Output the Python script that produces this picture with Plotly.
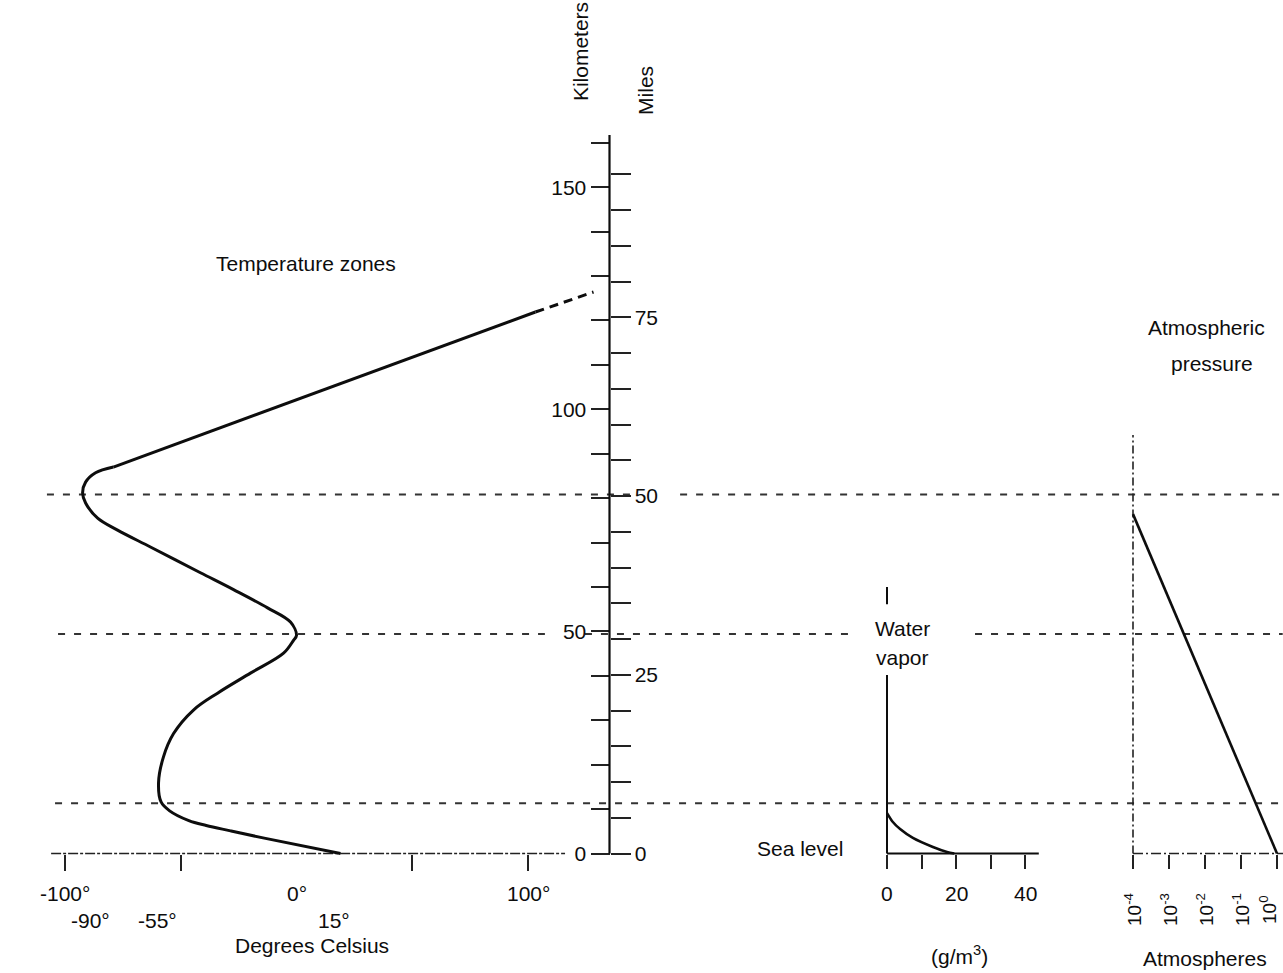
import plotly.graph_objects as go

# ---------------- data ----------------
# Temperature profile (degrees C vs altitude km)
temp_alt_km = [0, 3.4, 5.1, 6.3, 7.4, 9.6, 11.6, 15.9, 21.7, 27.0, 32.3, 36.1, 40.6, 45.1,
               48.0, 49.1, 52.1, 55.3, 59.4, 63.2, 69.0, 72.8, 75.5, 78.9, 81.2, 83.6, 85.7, 87.0]
temp_deg_c = [19, -13.4, -28.5, -39.0, -46.5, -54.8, -58.5, -59.6, -57.5, -53.1, -44.5, -34.1,
              -19.9, -5.6, -1.3, 0, -2.6, -12.5, -27.2, -41.5, -63.1, -77.3, -85.9, -91.1,
              -92.4, -91.1, -86.8, -79.1]
thermo_alt_km = [87.0, 121.9]
thermo_deg_c = [-79.1, 103.2]
thermo_ext_alt_km = [121.9, 126.4]
thermo_ext_deg_c = [103.2, 128.3]

# Water vapor (g/m3 vs km)
vapor_alt_km = [0, 0.34, 1.46, 3.5, 5.5, 7.1, 9.1]
vapor_g_m3 = [19.5, 17.4, 13.3, 7.5, 3.8, 1.7, 0]
vapor_axis_km = [0, 40.2, None, 56.1, 60.0]
vapor_axis_g = [0, 0, None, 0, 0]
vapor_base_g = [0, 44]

# Atmospheric pressure (atm vs km)
pressure_alt_km = [0, 76.4]
pressure_atm = [1.0, 1e-4]
pressure_axis_km = [0, 94.2]
pressure_base_atm = [1e-4, 1.47]

# Temperature-zone boundaries (km) and their horizontal extents (in deg C units)
boundary_km = [80.8, 49.4, 11.3]
boundary_extents_c = [
    [(-107.8, 144.9), (165.7, 426)],
    [(-103.0, 107.3), (124.6, 239.1), (293.1, 426)],
    [(-104.3, 426)],
]
sea_level_extent_c = [-106, 116]

km_major = [0, 50, 100, 150]
km_minor = list(range(0, 161, 10))
mile_major = [0, 25, 50, 75]
mile_minor = list(range(0, 100, 5))
KM_PER_MILE = 1.609344

temp_ticks = [-100, -50, 50, 100]
temp_labels = ["-100°", "0°", "100°"]
temp_label_pos = [-100, 0, 100]
zone_labels = ["-90°", "-55°", "15°"]
zone_label_pos = [-89, -60, 16]

vapor_ticks = [0, 10, 20, 30, 40]
vapor_labels = ["0", "20", "40"]
vapor_label_pos = [0, 20, 40]

pressure_ticks = [1e-4, 1e-3, 1e-2, 1e-1, 1]
pressure_exps = [-4, -3, -2, -1, 0]
pressure_label_pos = [-4, -3, -2, -1, -0.25]

# ---------------- layout calibration (pixels) ----------------
W, H = 1283, 973
KM0_PY = 853.5
PX_PER_KM = 4.442
T_M100_PX = 65
PX_PER_DEG = 2.315
WV0_PX = 887
PX_PER_G = 3.45
P_M4_PX = 1133
PX_PER_DEC = 36.0
KM_AXIS_PX = 609.5

y_range = [(KM0_PY - H) / PX_PER_KM, KM0_PY / PX_PER_KM]
x_temp_range = [-100 - T_M100_PX / PX_PER_DEG, -100 + (W - T_M100_PX) / PX_PER_DEG]
x_vap_range = [-WV0_PX / PX_PER_G, (W - WV0_PX) / PX_PER_G]
x_pres_range = [-4 - P_M4_PX / PX_PER_DEC, -4 + (W - P_M4_PX) / PX_PER_DEC]
base_pos = (H - KM0_PY) / H
km_axis_pos = KM_AXIS_PX / W

INK = "#0d0d0d"
FONT = "Liberation Sans, Arial, Helvetica, sans-serif"
FS = 21

def km_from_px(py):
    return (KM0_PY - py) / PX_PER_KM

fig = go.Figure()

# zone boundary dashed lines
for km, segs in zip(boundary_km, boundary_extents_c):
    xs, ys = [], []
    for a, b in segs:
        xs += [a, b, None]
        ys += [km, km, None]
    fig.add_trace(go.Scatter(x=xs, y=ys, mode="lines", xaxis="x", yaxis="y",
                             line=dict(color="#333333", width=2, dash="7px,9px"),
                             hoverinfo="skip", showlegend=False))

# sea level baseline for temperature
fig.add_trace(go.Scatter(x=sea_level_extent_c, y=[0, 0], mode="lines", xaxis="x", yaxis="y",
                         line=dict(color="#222222", width=1.6, dash="10px,2px,3px,2px"),
                         hoverinfo="skip", showlegend=False))

# temperature curve
fig.add_trace(go.Scatter(x=temp_deg_c, y=temp_alt_km, mode="lines", xaxis="x", yaxis="y",
                         line=dict(color=INK, width=3, shape="spline", smoothing=1.0),
                         hoverinfo="skip", showlegend=False))
fig.add_trace(go.Scatter(x=thermo_deg_c, y=thermo_alt_km, mode="lines", xaxis="x", yaxis="y",
                         line=dict(color=INK, width=3),
                         hoverinfo="skip", showlegend=False))
fig.add_trace(go.Scatter(x=thermo_ext_deg_c, y=thermo_ext_alt_km, mode="lines", xaxis="x", yaxis="y",
                         line=dict(color=INK, width=3, dash="9px,6px"),
                         hoverinfo="skip", showlegend=False))

# invisible trace so the miles axis is drawn
fig.add_trace(go.Scatter(x=[None], y=[None], mode="markers", xaxis="x", yaxis="y2",
                         marker=dict(opacity=0), hoverinfo="skip", showlegend=False))

# water vapor panel
fig.add_trace(go.Scatter(x=vapor_axis_g, y=vapor_axis_km, mode="lines", xaxis="x2", yaxis="y",
                         line=dict(color=INK, width=2), hoverinfo="skip", showlegend=False))
fig.add_trace(go.Scatter(x=vapor_base_g, y=[0, 0], mode="lines", xaxis="x2", yaxis="y",
                         line=dict(color=INK, width=2), hoverinfo="skip", showlegend=False))
fig.add_trace(go.Scatter(x=vapor_g_m3, y=vapor_alt_km, mode="lines", xaxis="x2", yaxis="y",
                         line=dict(color=INK, width=2.6, shape="spline", smoothing=0.8),
                         hoverinfo="skip", showlegend=False))

# pressure panel
fig.add_trace(go.Scatter(x=[pressure_ticks[0], pressure_ticks[0]], y=pressure_axis_km, mode="lines",
                         xaxis="x3", yaxis="y",
                         line=dict(color="#222222", width=1.6, dash="8px,3px,2px,3px"),
                         hoverinfo="skip", showlegend=False))
fig.add_trace(go.Scatter(x=pressure_base_atm, y=[0, 0], mode="lines", xaxis="x3", yaxis="y",
                         line=dict(color="#222222", width=1.6, dash="10px,3px,2px,3px"),
                         hoverinfo="skip", showlegend=False))
fig.add_trace(go.Scatter(x=pressure_atm, y=pressure_alt_km, mode="lines", xaxis="x3", yaxis="y",
                         line=dict(color=INK, width=2.6), hoverinfo="skip", showlegend=False))

ann = []
def A(text, x, y, xref="x", size=FS, angle=0, **kw):
    ann.append(dict(text=text, x=x, y=y, xref=xref, yref="y", showarrow=False,
                    textangle=angle, font=dict(family=FONT, size=size, color=INK),
                    xanchor="center", yanchor="middle", **kw))

for t, p in zip(temp_labels, temp_label_pos):
    A(t, p, km_from_px(893))
for t, p in zip(zone_labels, zone_label_pos):
    A(t, p, km_from_px(920))
A("Degrees Celsius", 6.5, km_from_px(945))
A("Temperature zones", 4, km_from_px(263))
A("Kilometers", 122.5, km_from_px(52), angle=-90)
A("Miles", 150.5, km_from_px(90), angle=-90)

for t, p in zip(vapor_labels, vapor_label_pos):
    A(t, p, km_from_px(893), xref="x2")
A("(g/m<sup>3</sup>)", 21, km_from_px(955), xref="x2")
A("Sea level", -25.2, km_from_px(848), xref="x2")
A("Water", 4.6, km_from_px(628), xref="x2")
A("vapor", 4.6, km_from_px(657), xref="x2")

for e, p in zip(pressure_exps, pressure_label_pos):
    A("10<sup>%d</sup>" % e, p, km_from_px(910), xref="x3", size=19, angle=-90)
A("Atmospheres", -2.0, km_from_px(958), xref="x3")
A("Atmospheric", -1.95, km_from_px(327), xref="x3")
A("pressure", -1.8, km_from_px(363), xref="x3")

common_x = dict(showgrid=False, zeroline=False, showline=False, showticklabels=False,
                ticks="outside", tickwidth=2, tickcolor="#222222", anchor="free",
                position=base_pos, side="bottom", domain=[0, 1])
tick_style = dict(ticks="outside", tickwidth=2, tickcolor="#222222", showgrid=False)

fig.update_layout(
    width=W, height=H, margin=dict(l=0, r=0, t=0, b=0), autosize=False,
    paper_bgcolor="white", plot_bgcolor="white", showlegend=False,
    font=dict(family=FONT, size=FS, color=INK),
    xaxis=dict(range=x_temp_range, tickmode="array", tickvals=temp_ticks, ticklen=16, **common_x),
    xaxis2=dict(range=x_vap_range, tickmode="array", tickvals=vapor_ticks, ticklen=14,
                overlaying="x", **common_x),
    xaxis3=dict(type="log", range=x_pres_range, tickmode="array", tickvals=pressure_ticks,
                ticklen=14, overlaying="x", **common_x),
    yaxis=dict(range=y_range, domain=[0, 1], anchor="free", position=km_axis_pos, side="left",
               zeroline=False, showline=False, ticklen=19, tickmode="array", tickvals=km_major,
               tickfont=dict(family=FONT, size=FS, color=INK), **tick_style,
               minor=dict(tickmode="array", tickvals=km_minor, ticklen=19, **tick_style)),
    yaxis2=dict(range=[y_range[0] / KM_PER_MILE, y_range[1] / KM_PER_MILE], overlaying="y",
                anchor="free", position=km_axis_pos, side="right",
                zeroline=False, showline=False, ticklen=20, tickmode="array", tickvals=mile_major,
                tickfont=dict(family=FONT, size=FS, color=INK), **tick_style,
                minor=dict(tickmode="array", tickvals=mile_minor, ticklen=20, **tick_style)),
    annotations=ann,
    shapes=[dict(type="line", xref="paper", yref="y", x0=km_axis_pos, x1=km_axis_pos,
                 y0=0, y1=km_from_px(135), line=dict(color=INK, width=2.2))],
)

fig.write_html("out.html", config={"displayModeBar": False},
               post_script="document.body.style.margin='0';document.body.style.overflow='hidden';")
